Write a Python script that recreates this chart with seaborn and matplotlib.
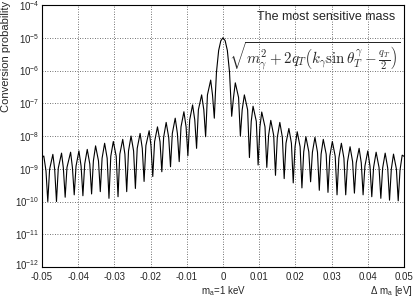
import pandas as pd
import numpy as np
import seaborn as sns
import matplotlib
matplotlib.use('Agg')
import matplotlib.pyplot as plt
from matplotlib.transforms import ScaledTranslation

# sinc-like lobes: peak / zero positions (eV) and heights
peak_x_right = [0.0034, 0.0059, 0.0083, 0.0107, 0.0132, 0.0157, 0.0182, 0.0205, 0.0229, 0.0254,
                0.0277, 0.0302, 0.0327, 0.0351, 0.0376, 0.0400, 0.0423, 0.0448, 0.0471, 0.0495]
peak_y_right = [4.2e-7, 1.8e-7, 8.1e-8, 5.4e-8, 3.0e-8, 2.6e-8, 1.7e-8, 1.35e-8, 9.5e-9, 9.1e-9,
                7.9e-9, 6.8e-9, 6.0e-9, 4.7e-9, 4.2e-9, 3.5e-9, 3.2e-9, 3.0e-9, 2.8e-9, 2.6e-9]
peak_x_left = [-0.0034, -0.0059, -0.0084, -0.0108, -0.0132, -0.0157, -0.0181, -0.0204, -0.0229, -0.0254,
               -0.0277, -0.0303, -0.0327, -0.0352, -0.0375, -0.0398, -0.0421, -0.0446, -0.0470, -0.0495]
peak_y_left = [5.1e-7, 1.8e-7, 8.9e-8, 5.5e-8, 3.5e-8, 2.6e-8, 1.9e-8, 1.45e-8, 1.2e-8, 1.0e-8,
               7.9e-9, 6.8e-9, 6.0e-9, 5.0e-9, 3.9e-9, 3.5e-9, 3.2e-9, 3.0e-9, 2.75e-9, 2.45e-9]

trough_x_right = [0.0024, 0.0048, 0.0073, 0.0097, 0.0121, 0.0145, 0.0169, 0.0194, 0.0218, 0.0242,
                  0.0266, 0.0290, 0.0315, 0.0339, 0.0363, 0.0387, 0.0411, 0.0436, 0.0460, 0.0484]
trough_y_right = [4.0e-8, 1.0e-8, 2.2e-9, 1.3e-9, 1.1e-9, 6.3e-10, 5.0e-10, 3.7e-10, 2.6e-10, 4.0e-10,
                  2.2e-10, 1.9e-10, 1.6e-10, 1.6e-10, 1.8e-10, 1.6e-10, 1.4e-10, 1.25e-10, 1.1e-10, 1.05e-10]
trough_x_left = [-0.0024, -0.0048, -0.0073, -0.0097, -0.0121, -0.0145, -0.0169, -0.0194, -0.0218, -0.0242,
                 -0.0266, -0.0290, -0.0315, -0.0339, -0.0363, -0.0387, -0.0411, -0.0436, -0.0460, -0.0484]
trough_y_left = [3.5e-8, 9.5e-9, 4.2e-9, 2.5e-9, 1.65e-9, 1.15e-9, 8.1e-10, 5.8e-10, 4.1e-10, 2.5e-10,
                 2.0e-10, 1.4e-10, 1.25e-10, 2.0e-10, 1.7e-10, 1.5e-10, 1.6e-10, 1.35e-10, 1.0e-10, 1.0e-10]

# flanks of each lobe (where the arch bends over)
shoulder_x_right = [0.0029, 0.0043, 0.0053, 0.0068, 0.0078, 0.0092, 0.0102, 0.0116, 0.0126, 0.0140,
                    0.0150, 0.0164, 0.0174, 0.0189, 0.0199, 0.0213, 0.0223, 0.0237, 0.0247, 0.0261,
                    0.0271, 0.0285, 0.0295, 0.0310, 0.0320, 0.0334, 0.0344, 0.0358, 0.0368, 0.0382,
                    0.0392, 0.0406, 0.0416, 0.0431, 0.0441, 0.0455, 0.0465, 0.0479, 0.0489]
shoulder_y_right = [1.5e-7, 1.5e-7, 6.3e-8, 6.3e-8, 2.8e-8, 2.8e-8, 1.9e-8, 1.9e-8, 1.05e-8, 1.05e-8,
                    9.1e-9, 9.1e-9, 6.0e-9, 6.0e-9, 4.7e-9, 4.7e-9, 3.3e-9, 3.3e-9, 3.2e-9, 3.2e-9,
                    2.8e-9, 2.8e-9, 2.4e-9, 2.4e-9, 2.1e-9, 2.1e-9, 1.65e-9, 1.65e-9, 1.5e-9, 1.5e-9,
                    1.2e-9, 1.2e-9, 1.1e-9, 1.1e-9, 1.05e-9, 1.05e-9, 9.8e-10, 9.8e-10, 9.1e-10]
shoulder_x_left = [-0.0029, -0.0043, -0.0053, -0.0068, -0.0078, -0.0092, -0.0102, -0.0116, -0.0126, -0.0140,
                   -0.0150, -0.0164, -0.0174, -0.0189, -0.0199, -0.0213, -0.0223, -0.0237, -0.0247, -0.0261,
                   -0.0271, -0.0285, -0.0295, -0.0310, -0.0320, -0.0334, -0.0344, -0.0358, -0.0368, -0.0382,
                   -0.0392, -0.0406, -0.0416, -0.0431, -0.0441, -0.0455, -0.0465, -0.0479, -0.0489]
shoulder_y_left = [1.8e-7, 1.8e-7, 6.3e-8, 6.3e-8, 3.1e-8, 3.1e-8, 1.9e-8, 1.9e-8, 1.2e-8, 1.2e-8,
                   9.1e-9, 9.1e-9, 6.7e-9, 6.7e-9, 5.1e-9, 5.1e-9, 4.2e-9, 4.2e-9, 3.5e-9, 3.5e-9,
                   2.8e-9, 2.8e-9, 2.4e-9, 2.4e-9, 2.1e-9, 2.1e-9, 1.75e-9, 1.75e-9, 1.4e-9, 1.4e-9,
                   1.2e-9, 1.2e-9, 1.1e-9, 1.1e-9, 1.05e-9, 1.05e-9, 9.6e-10, 9.6e-10, 8.6e-10]

# main lobe around zero and the two ends of the range
central_x = [-0.0021, -0.0018, -0.0012, -0.0006, 0.0, 0.0006, 0.0012, 0.0018, 0.0021]
central_y = [2.0e-7, 9.0e-7, 4.1e-6, 8.1e-6, 1.0e-5, 8.1e-6, 4.1e-6, 9.0e-7, 2.0e-7]
edge_x = [-0.05, 0.05]
edge_y = [2.2e-9, 2.4e-9]

xtick_vals = [-0.05, -0.04, -0.03, -0.02, -0.01, 0.0, 0.01, 0.02, 0.03, 0.04, 0.05]
xtick_labels = ['-0.05', '-0.04', '-0.03', '-0.02', '-0.01', '0', '0.01', '0.02', '0.03', '0.04', '0.05']
ytick_vals = [1e-12, 1e-11, 1e-10, 1e-9, 1e-8, 1e-7, 1e-6, 1e-5, 1e-4]
ytick_labels = [r'$\mathdefault{10^{-%d}}$' % k for k in [12, 11, 10, 9, 8, 7, 6, 5, 4]]

df = pd.DataFrame({
    'dm': (peak_x_right + peak_x_left + trough_x_right + trough_x_left
           + shoulder_x_right + shoulder_x_left + central_x + edge_x),
    'prob': (peak_y_right + peak_y_left + trough_y_right + trough_y_left
             + shoulder_y_right + shoulder_y_left + central_y + edge_y),
}).sort_values('dm')

sns.set_style('white')
plt.rcParams['font.family'] = ['Liberation Sans', 'DejaVu Sans']
plt.rcParams['mathtext.fontset'] = 'custom'
plt.rcParams['mathtext.rm'] = 'Liberation Sans'
plt.rcParams['mathtext.it'] = 'Liberation Sans:italic'

fig = plt.figure(figsize=(4.15, 2.97), dpi=100)
ax = fig.add_axes([42 / 415, 1 - 267 / 297, 362 / 415, 262 / 297])

sns.lineplot(data=df, x='dm', y='prob', ax=ax, color='black', linewidth=0.8,
             estimator=None, sort=True)

ax.set_yscale('log')
ax.set_xlim(-0.05, 0.05)
ax.set_ylim(1e-12, 1e-4)
ax.set_xticks(xtick_vals)
ax.set_xticklabels(xtick_labels)
ax.set_xticks(np.arange(-0.05, 0.0501, 0.002), minor=True)
ax.set_yticks(ytick_vals)
ax.set_yticklabels(ytick_labels)
ax.yaxis.set_minor_locator(matplotlib.ticker.LogLocator(base=10, subs=np.arange(2, 10), numticks=20))
ax.yaxis.set_minor_formatter(matplotlib.ticker.NullFormatter())

ax.tick_params(axis='x', which='major', direction='in', length=5, width=0.7, labelsize=7, pad=3.5)
ax.tick_params(axis='x', which='minor', direction='in', length=2.5, width=0.6)
ax.tick_params(axis='y', which='major', direction='in', length=4, width=0.7, labelsize=7, pad=2)
ax.tick_params(axis='y', which='minor', direction='in', length=2, width=0.6)
ax.tick_params(top=False, right=False, which='both')

# lift the lowest y label a little so it clears the -0.05 label (as in ROOT)
low = ax.get_yticklabels()[0]
low.set_transform(low.get_transform() + ScaledTranslation(0, 3 / 100, fig.dpi_scale_trans))

ax.grid(True, which='major', color='#444444', linestyle=(0, (1, 2)), linewidth=0.6)
for s in ax.spines.values():
    s.set_color('black')
    s.set_linewidth(0.8)
ax.set_xlabel('')
ax.set_ylabel('')

fig.text(6 / 415, 1 - 1 / 297, 'Conversion probability', rotation=90, ha='center', va='top', fontsize=8)
fig.text(223 / 415, 1 - 291 / 297, r'm$_{\mathdefault{a}}$=1 keV', ha='center', va='center', fontsize=7)
fig.text(413 / 415, 1 - 291 / 297, r'$\Delta$ m$_{\mathdefault{a}}$ [eV]', ha='right', va='center', fontsize=7)

ax.text(0.786, 0.954, 'The most sensitive mass', transform=ax.transAxes,
        ha='center', va='center', fontsize=9)
ax.text(0.754, 0.806,
        r'$\sqrt{m_\gamma^2 + 2q_T\left(k_\gamma \sin\theta_T^\gamma - \frac{q_T}{2}\right)}$',
        transform=ax.transAxes, ha='center', va='center', fontsize=10.8, math_fontfamily='cm')

fig.savefig('out.png', dpi=100)
